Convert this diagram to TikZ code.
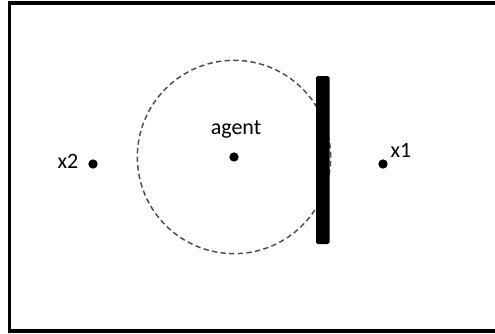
\documentclass[tikz,border=0pt]{standalone}
\usepackage{fontspec}
\setmainfont{Carlito}

\begin{document}
\begin{tikzpicture}[
  x=0.75pt, y=-0.75pt,
  pt/.style={circle, fill=black, inner sep=0pt, minimum size=7pt},
  lbl/.style={font=\fontsize{16.5}{19}\selectfont, inner sep=0pt},
  sensezone/.style={circle, draw=black!70, line width=1.1pt,
    dash pattern=on 4pt off 2.5pt, minimum size=145pt, inner sep=0pt},
  wall/.style={fill=black, rounded corners=1.2pt},
]
\useasboundingbox (0,0) rectangle (495,333);
\clip (0,0) rectangle (495,333);

% arena
\draw[line width=2.6pt] (9.5,3) rectangle (520,331);

% sensing range of the agent
\node[sensezone] (zone) at (234,157) {};

% wall
\fill[wall] (316,76) rectangle (329.5,244);

% points
\node[pt] (agent) at (234,157) {};
\node[pt] (x2) at (93,164) {};
\node[pt] (x1) at (383,164) {};

\node[lbl] (agentlbl) at (236,129) {agent};
\node[lbl] (x2lbl) at (68,161) {x2};
\node[lbl] (x1lbl) at (401,150) {x1};

\end{tikzpicture}
\end{document}
